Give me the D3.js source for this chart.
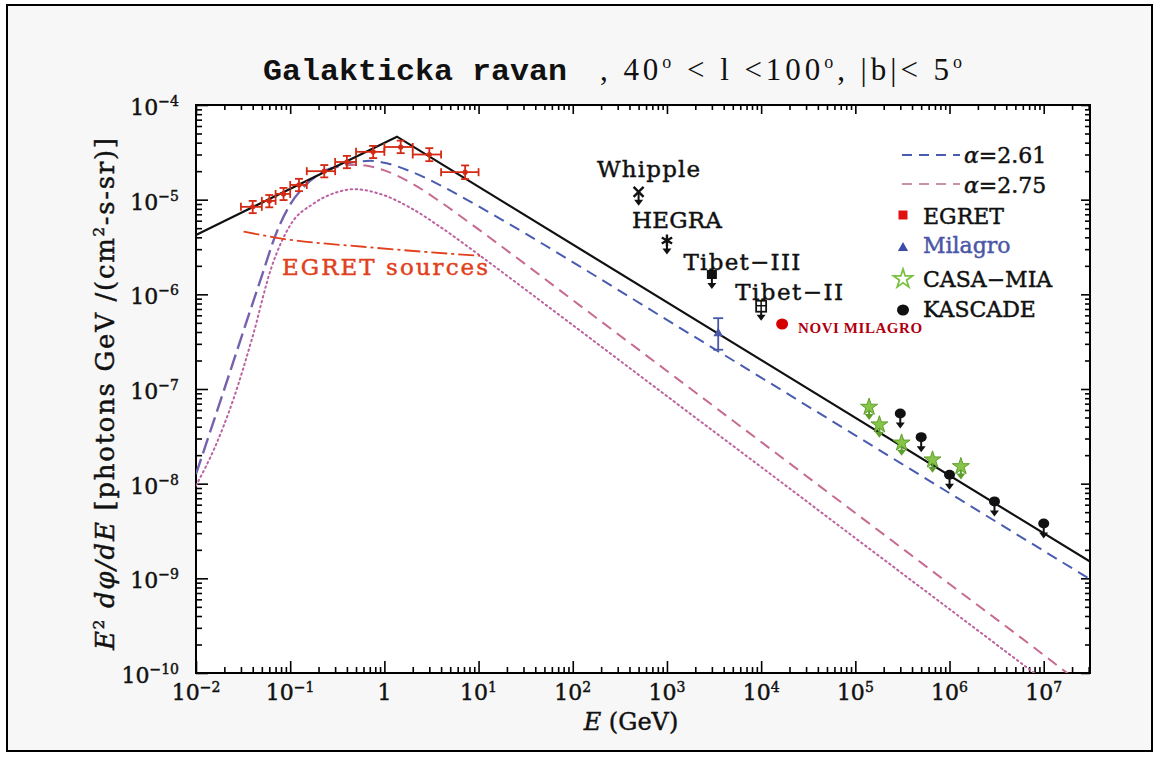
<!DOCTYPE html>
<html><head><meta charset="utf-8">
<script src="https://cdn.jsdelivr.net/npm/d3@7/dist/d3.min.js"></script>
<style>html,body{margin:0;padding:0;background:#fff}svg{display:block}</style>
</head><body>
<svg id="chart" width="1159" height="778"></svg>
<script>
// ---------------- data ----------------
const xMajorTicks=[1e-2,1e-1,1,1e1,1e2,1e3,1e4,1e5,1e6,1e7];
const xTickBase=["10","10","1","10","10","10","10","10","10","10"];
const xTickExp=["−2","−1","","1","2","3","4","5","6","7"];
const yMajorTicks=[1e-4,1e-5,1e-6,1e-7,1e-8,1e-9,1e-10];
const yTickBase=["10","10","10","10","10","10","10"];
const yTickExp=["−4","−5","−6","−7","−8","−9","−10"];

// broken power law (black)
const modelE=[0.01,1.36,3.1e7];
const modelF=[4.24e-6,4.63e-5,1.5e-9];

// common low-energy part of both dashed curves
const sharedLowE=[0.01,0.0126,0.02,0.0316,0.0501,0.0708,0.1,0.141,0.251];
const sharedLowF=[1.26e-8,2.51e-8,1.0e-7,3.98e-7,1.58e-6,4.37e-6,8.9e-6,1.38e-5,2.09e-5];

// alpha = 2.61 (blue dashed)
const a261E=[0.251,0.501,0.708,1,2,3.98,10,31.6,100,1e3,1e4,1e5,1e6,1e7,3.1e7];
const a261F=[2.09e-5,2.51e-5,2.57e-5,2.45e-5,1.95e-5,1.41e-5,8.5e-6,4.37e-6,2.19e-6,5.37e-7,1.32e-7,3.24e-8,7.94e-9,1.95e-9,9.8e-10];

// alpha = 2.75 (pink dashed)
const a275E=[0.251,0.501,1,2,3.98,10,31.6,100,1e3,1e4,1e5,1e6,1e7,3.1e7];
const a275F=[2.09e-5,2.34e-5,2.04e-5,1.47e-5,9.4e-6,4.85e-6,2.07e-6,8.7e-7,1.55e-7,2.76e-8,4.9e-9,8.7e-10,1.55e-10,6.5e-11];

// dotted pink
const dottedE=[0.01,0.0158,0.0251,0.0398,0.0631,0.1,0.178,0.316,0.468,1,2,3.98,10,31.6,100,1e3,1e4,1e5,1e6,1e7];
const dottedF=[9.55e-9,2.4e-8,7.94e-8,3.55e-7,1.91e-6,5.37e-6,9.12e-6,1.2e-5,1.29e-5,1.11e-5,7.94e-6,5.1e-6,2.63e-6,1.12e-6,4.73e-7,8.4e-8,1.5e-8,2.66e-9,4.73e-10,8.4e-11];

// EGRET sources (red dash-dot)
const srcE=[0.032,0.078,0.6,10.4];
const srcF=[4.6e-6,3.9e-6,3.18e-6,2.55e-6];

// EGRET data
const egretE=[0.04,0.06,0.085,0.124,0.23,0.40,0.76,1.49,3.0,7.2];
const egretElo=[0.03,0.05,0.07,0.1,0.15,0.3,0.5,1,2,4];
const egretEhi=[0.05,0.07,0.1,0.15,0.3,0.5,1,2,4,10];
const egretF=[8.4e-6,9.7e-6,1.15e-5,1.43e-5,2.0e-5,2.5e-5,3.2e-5,3.6e-5,3.0e-5,1.95e-5];
const egretFlo=[7.2e-6,8.3e-6,9.9e-6,1.23e-5,1.72e-5,2.15e-5,2.75e-5,3.1e-5,2.55e-5,1.65e-5];
const egretFhi=[9.7e-6,1.12e-5,1.33e-5,1.66e-5,2.32e-5,2.9e-5,3.7e-5,4.2e-5,3.5e-5,2.3e-5];

// Milagro
const milagroE=[3500];
const milagroF=[3.87e-7];
const milagroFlo=[2.6e-7];
const milagroFhi=[5.6e-7];

// new Milagro
const novE=[1.67e4];
const novF=[4.86e-7];

// upper limits from IACTs / Tibet
const ulNames=["Whipple","HEGRA","Tibet−III","Tibet−II"];
const ulE=[500,1000,3000,1e4];
const ulF=[1.21e-5,3.7e-6,1.6e-6,7.4e-7];

// CASA-MIA and KASCADE upper limits
const casaE=[1.4e5,1.8e5,3.1e5,6.6e5,1.32e6];
const casaF=[6.45e-8,4.2e-8,2.7e-8,1.79e-8,1.52e-8];
const kascE=[3e5,5e5,1e6,3e6,1e7];
const kascF=[5.5e-8,3.1e-8,1.24e-8,6.5e-9,3.8e-9];

const legendLabels=["α=2.61","α=2.75","EGRET","Milagro","CASA−MIA","KASCADE"];

// ---------------- layout / style ----------------
const L=196,R=1090,T=105,B=673;
const C={black:"#111",blue:"#4a5cb0",pink:"#c66a92",dot:"#bd62a0",purple:"#7662ac",red:"#d42a14",
  srcRed:"#e0401c",green:"#86c548",greenDark:"#5f9e2c",novRed:"#d40000",novText:"#b00010",milBlue:"#4a58a8"};
const serif="'DejaVu Serif', serif";
const thick=(sel,col)=>sel.attr("stroke",col).attr("stroke-width",0.45);

const svg=d3.select("#chart");
const x=d3.scaleLog().domain([1e-2,3.1e7]).range([L,R]);
const y=d3.scaleLog().domain([1e-10,1e-4]).range([B,T]);

// backgrounds
svg.append("rect").attr("x",0).attr("y",0).attr("width",1159).attr("height",778).attr("fill","#fff");
svg.append("rect").attr("x",7).attr("y",5).attr("width",1145).attr("height",746)
  .attr("fill","#f7f7f7").attr("stroke","#000").attr("stroke-width",2);
svg.append("rect").attr("x",L).attr("y",T).attr("width",R-L).attr("height",B-T).attr("fill","#fff");

svg.append("defs").append("clipPath").attr("id","clip")
  .append("rect").attr("x",L).attr("y",T).attr("width",R-L).attr("height",B-T);

// ---------------- axes ----------------
const xMinor=[];
for(let d=-2;d<=7;d++) for(let k=2;k<=9;k++){const v=k*Math.pow(10,d); if(v<=3.1e7) xMinor.push(v);}
const yMinor=[];
for(let d=-10;d<=-5;d++) for(let k=2;k<=9;k++) yMinor.push(k*Math.pow(10,d));

function strip(g){g.select(".domain").remove(); g.selectAll(".tick line").attr("stroke","#000").attr("stroke-width",1.6);}
svg.append("g").attr("transform",`translate(0,${B})`).call(d3.axisBottom(x).tickValues(xMajorTicks).tickSize(-12).tickFormat("")).call(strip);
svg.append("g").attr("transform",`translate(0,${B})`).call(d3.axisBottom(x).tickValues(xMinor).tickSize(-6).tickFormat("")).call(strip);
svg.append("g").attr("transform",`translate(0,${T})`).call(d3.axisTop(x).tickValues(xMajorTicks).tickSize(-9).tickFormat("")).call(strip);
svg.append("g").attr("transform",`translate(0,${T})`).call(d3.axisTop(x).tickValues(xMinor).tickSize(-5).tickFormat("")).call(strip);
svg.append("g").attr("transform",`translate(${L},0)`).call(d3.axisLeft(y).tickValues(yMajorTicks).tickSize(-12).tickFormat("")).call(strip);
svg.append("g").attr("transform",`translate(${L},0)`).call(d3.axisLeft(y).tickValues(yMinor).tickSize(-6).tickFormat("")).call(strip);
svg.append("g").attr("transform",`translate(${R},0)`).call(d3.axisRight(y).tickValues(yMajorTicks).tickSize(-9).tickFormat("")).call(strip);
svg.append("g").attr("transform",`translate(${R},0)`).call(d3.axisRight(y).tickValues(yMinor).tickSize(-5).tickFormat("")).call(strip);

// frame
svg.append("rect").attr("x",L).attr("y",T).attr("width",R-L).attr("height",B-T)
  .attr("fill","none").attr("stroke","#000").attr("stroke-width",2);

// tick labels
xMajorTicks.forEach((v,i)=>{
  const t=svg.append("text").attr("x",x(v)).attr("y",700).attr("text-anchor","middle")
    .attr("font-family",serif).attr("font-size",22).attr("fill","#111");
  thick(t,"#111");
  t.append("tspan").text(xTickBase[i]);
  if(xTickExp[i]) t.append("tspan").attr("font-size",14).attr("dy",-8).text(xTickExp[i]);
});
yMajorTicks.forEach((v,i)=>{
  const t=svg.append("text").attr("x",179).attr("y",y(v)+10).attr("text-anchor","end")
    .attr("font-family",serif).attr("font-size",22).attr("fill","#111");
  thick(t,"#111");
  t.append("tspan").text(yTickBase[i]);
  t.append("tspan").attr("font-size",14).attr("dy",-9).text(yTickExp[i]);
});

// axis titles
const xt=svg.append("text").attr("x",631).attr("y",730).attr("text-anchor","middle")
  .attr("font-family",serif).attr("font-size",24).attr("fill","#111");
thick(xt,"#111");
xt.append("tspan").attr("font-style","italic").text("E");
xt.append("tspan").text(" (GeV)");

const yt=svg.append("text").attr("transform","translate(114,394) rotate(-90)").attr("text-anchor","middle")
  .attr("font-family",serif).attr("font-size",26).attr("fill","#111").attr("textLength",512).attr("lengthAdjust","spacing");
thick(yt,"#111");
yt.append("tspan").attr("font-style","italic").text("E");
yt.append("tspan").attr("font-size",15).attr("dy",-10).text("2");
yt.append("tspan").attr("dy",10).attr("font-style","italic").text(" dφ/dE");
yt.append("tspan").text("  [photons GeV /(cm");
yt.append("tspan").attr("font-size",15).attr("dy",-10).text("2");
yt.append("tspan").attr("dy",10).text("-s-sr)]");

// title
svg.append("text").attr("x",263).attr("y",80).attr("font-family","'Liberation Mono', monospace")
  .attr("font-weight","bold").attr("font-size",30).attr("fill","#111")
  .attr("textLength",304).attr("lengthAdjust","spacingAndGlyphs").text("Galakticka ravan");
const t2=svg.append("text").attr("x",600).attr("y",80).attr("font-family","'Liberation Serif', serif")
  .attr("font-size",31).attr("fill","#111").attr("textLength",362).attr("lengthAdjust","spacing");
t2.append("tspan").text(", 40");
t2.append("tspan").attr("font-size",18).attr("dy",-12).text("o");
t2.append("tspan").attr("dy",12).text(" < l <100");
t2.append("tspan").attr("font-size",18).attr("dy",-12).text("o");
t2.append("tspan").attr("dy",12).text(", |b|< 5");
t2.append("tspan").attr("font-size",18).attr("dy",-12).text("o");

// ---------------- curves ----------------
const plot=svg.append("g").attr("clip-path","url(#clip)");
const zip=(E,F)=>E.map((e,i)=>[e,F[i]]);
const line=d3.line().x(d=>x(d[0])).y(d=>y(d[1])).curve(d3.curveMonotoneX);
const lineLin=d3.line().x(d=>x(d[0])).y(d=>y(d[1]));

plot.append("path").attr("d",line(zip(dottedE,dottedF))).attr("fill","none")
  .attr("stroke",C.dot).attr("stroke-width",2).attr("stroke-dasharray","1.5,3.5").attr("stroke-linecap","round");
plot.append("path").attr("d",line(zip(a275E,a275F))).attr("fill","none")
  .attr("stroke",C.pink).attr("stroke-width",2).attr("stroke-dasharray","11,7");
plot.append("path").attr("d",line(zip(a261E,a261F))).attr("fill","none")
  .attr("stroke",C.blue).attr("stroke-width",2).attr("stroke-dasharray","11,7");
plot.append("path").attr("d",line(zip(sharedLowE,sharedLowF))).attr("fill","none")
  .attr("stroke",C.purple).attr("stroke-width",2.4).attr("stroke-dasharray","16,6");
plot.append("path").attr("d",line(zip(srcE,srcF))).attr("fill","none")
  .attr("stroke",C.srcRed).attr("stroke-width",1.8).attr("stroke-dasharray","16,4,3,4");
plot.append("path").attr("d",lineLin(zip(modelE,modelF))).attr("fill","none")
  .attr("stroke",C.black).attr("stroke-width",2.2);

// EGRET sources label
const es=svg.append("text").attr("x",282).attr("y",275).attr("font-family",serif).attr("font-size",23)
  .attr("fill",C.srcRed).attr("textLength",206).attr("lengthAdjust","spacing").text("EGRET sources");
thick(es,C.srcRed);

// ---------------- EGRET points ----------------
const eg=svg.append("g").attr("stroke",C.red).attr("stroke-width",1.8);
egretE.forEach((e,i)=>{
  const cx=x(e), cy=y(egretF[i]);
  eg.append("line").attr("x1",x(egretElo[i])).attr("x2",x(egretEhi[i])).attr("y1",cy).attr("y2",cy);
  eg.append("line").attr("x1",x(egretElo[i])).attr("x2",x(egretElo[i])).attr("y1",cy-4).attr("y2",cy+4);
  eg.append("line").attr("x1",x(egretEhi[i])).attr("x2",x(egretEhi[i])).attr("y1",cy-4).attr("y2",cy+4);
  eg.append("line").attr("x1",cx).attr("x2",cx).attr("y1",y(egretFlo[i])).attr("y2",y(egretFhi[i]));
  eg.append("line").attr("x1",cx-4).attr("x2",cx+4).attr("y1",y(egretFlo[i])).attr("y2",y(egretFlo[i]));
  eg.append("line").attr("x1",cx-4).attr("x2",cx+4).attr("y1",y(egretFhi[i])).attr("y2",y(egretFhi[i]));
  eg.append("circle").attr("cx",cx).attr("cy",cy).attr("r",2.6).attr("fill",C.red).attr("stroke","none");
});

// ---------------- Milagro ----------------
milagroE.forEach((e,i)=>{
  const cx=x(e), cy=y(milagroF[i]);
  const g=svg.append("g").attr("stroke",C.milBlue).attr("stroke-width",1.8);
  g.append("line").attr("x1",cx).attr("x2",cx).attr("y1",y(milagroFlo[i])).attr("y2",y(milagroFhi[i]));
  g.append("line").attr("x1",cx-5).attr("x2",cx+5).attr("y1",y(milagroFlo[i])).attr("y2",y(milagroFlo[i]));
  g.append("line").attr("x1",cx-5).attr("x2",cx+5).attr("y1",y(milagroFhi[i])).attr("y2",y(milagroFhi[i]));
  svg.append("path").attr("d",d3.symbol(d3.symbolTriangle,40)()).attr("transform",`translate(${cx},${cy})`).attr("fill",C.milBlue);
});

// new Milagro
novE.forEach((e,i)=>{
  svg.append("ellipse").attr("cx",x(e)).attr("cy",y(novF[i])).attr("rx",6).attr("ry",5.5).attr("fill",C.novRed);
  svg.append("text").attr("x",x(e)+16).attr("y",y(novF[i])+9).attr("font-family","'Liberation Serif', serif")
    .attr("font-weight","bold").attr("font-size",15).attr("fill",C.novText)
    .attr("textLength",124).attr("lengthAdjust","spacing").text("NOVI MILAGRO");
});

// ---------------- upper limits ----------------
function arrow(g,cx,cy,color,len){
  g.append("line").attr("x1",cx).attr("x2",cx).attr("y1",cy).attr("y2",cy+len-4).attr("stroke",color).attr("stroke-width",2);
  g.append("path").attr("d",`M${cx-4.5},${cy+len-6}L${cx+4.5},${cy+len-6}L${cx},${cy+len}Z`).attr("fill",color);
}
const ulLabelDx=[10,10,30,28], ulLabelDy=[-15,-13,-5,-7], ulLabelW=[103,90,117,108];
ulE.forEach((e,i)=>{
  const cx=x(e), cy=y(ulF[i]);
  const g=svg.append("g");
  arrow(g,cx,cy,"#111",14);
  if(i===0){
    g.append("path").attr("d",`M${cx-5},${cy-5}L${cx+5},${cy+5}M${cx+5},${cy-5}L${cx-5},${cy+5}`).attr("stroke","#111").attr("stroke-width",2.4);
  } else if(i===1){
    g.append("path").attr("d",d3.symbol(d3.symbolAsterisk,100)()).attr("transform",`translate(${cx},${cy})`).attr("stroke","#111").attr("stroke-width",2.4).attr("fill","none");
  } else if(i===2){
    g.append("rect").attr("x",cx-5).attr("y",cy-5).attr("width",10).attr("height",9).attr("fill","#111");
  } else {
    g.append("rect").attr("x",cx-5).attr("y",cy-6).attr("width",10).attr("height",11).attr("fill","#fff").attr("stroke","#111").attr("stroke-width",1.8);
    g.append("line").attr("x1",cx-5).attr("x2",cx+5).attr("y1",cy-1).attr("y2",cy-1).attr("stroke","#111").attr("stroke-width",1.5);
    g.append("line").attr("x1",cx).attr("x2",cx).attr("y1",cy-6).attr("y2",cy+5).attr("stroke","#111").attr("stroke-width",1.5);
  }
  const lt=svg.append("text").attr("x",cx+ulLabelDx[i]).attr("y",cy+ulLabelDy[i]).attr("text-anchor","middle")
    .attr("font-family",serif).attr("font-size",23).attr("fill","#111")
    .attr("textLength",ulLabelW[i]).attr("lengthAdjust","spacing").text(ulNames[i]);
  thick(lt,"#111");
});

casaE.forEach((e,i)=>{
  const cx=x(e), cy=y(casaF[i]);
  const g=svg.append("g");
  arrow(g,cx,cy,C.greenDark,13);
  g.append("path").attr("d",d3.symbol(d3.symbolStar,90)()).attr("transform",`translate(${cx},${cy})`)
    .attr("fill",C.green).attr("stroke",C.greenDark).attr("stroke-width",1);
});
kascE.forEach((e,i)=>{
  const cx=x(e), cy=y(kascF[i]);
  const g=svg.append("g");
  arrow(g,cx,cy,"#111",15);
  g.append("ellipse").attr("cx",cx).attr("cy",cy).attr("rx",5.5).attr("ry",5).attr("fill","#111");
});

// ---------------- legend ----------------
const lg=svg.append("g").attr("font-family",serif).attr("font-size",22);
lg.append("line").attr("x1",902).attr("x2",960).attr("y1",155).attr("y2",155).attr("stroke",C.blue).attr("stroke-width",2).attr("stroke-dasharray","10,7");
lg.append("line").attr("x1",902).attr("x2",960).attr("y1",184).attr("y2",184).attr("stroke","#c890aa").attr("stroke-width",2).attr("stroke-dasharray","10,7");
[0,1].forEach(i=>{
  const t=lg.append("text").attr("x",964).attr("y",[163,193][i]).attr("fill","#111");
  thick(t,"#111");
  t.append("tspan").attr("font-style","italic").text(legendLabels[i].slice(0,1));
  t.append("tspan").text(legendLabels[i].slice(1));
});
lg.append("rect").attr("x",898.5).attr("y",210.5).attr("width",9).attr("height",9).attr("fill","#e01010");
lg.append("path").attr("d",d3.symbol(d3.symbolTriangle,45)()).attr("transform","translate(903,248)").attr("fill","#3d4ca6");
lg.append("path").attr("d",d3.symbol(d3.symbolStar,110)()).attr("transform","translate(903,279)").attr("fill","#fff").attr("stroke","#7cc142").attr("stroke-width",1.8);
lg.append("ellipse").attr("cx",903).attr("cy",310).attr("rx",6).attr("ry",5.5).attr("fill","#111");
[[224,"#111"],[253,"#4a56a6"],[287,"#111"],[317,"#111"]].forEach((d,i)=>{
  const t=lg.append("text").attr("x",923).attr("y",d[0]).attr("fill",d[1]).text(legendLabels[i+2]);
  thick(t,d[1]);
});
</script>
</body></html>
